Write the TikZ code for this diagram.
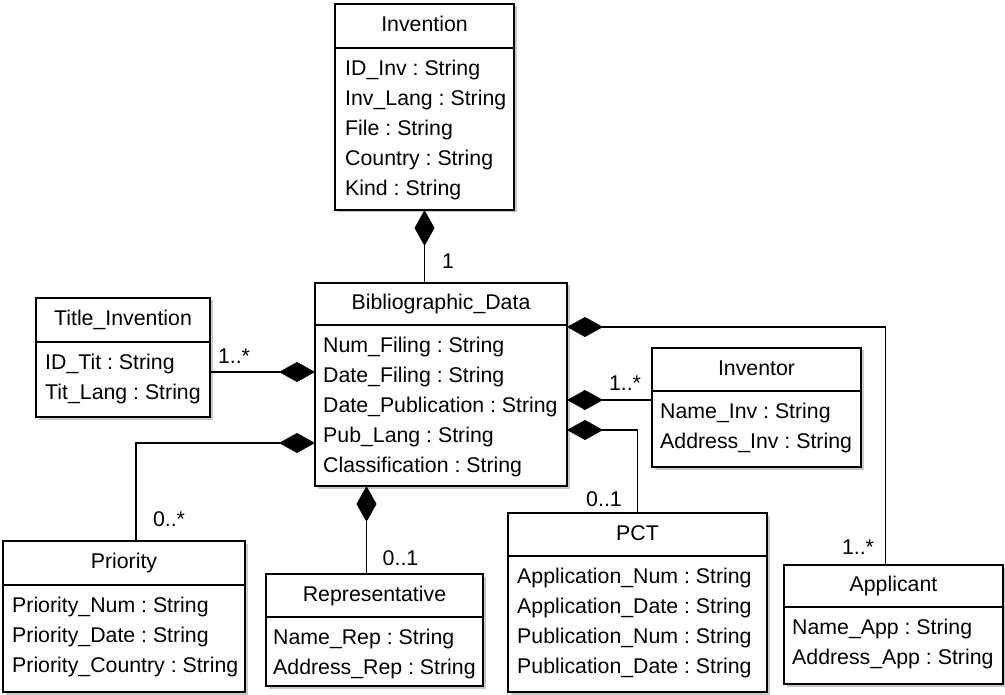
\documentclass[tikz,border=0pt]{standalone}
\usepackage{fontspec}
\setmainfont{Liberation Sans}
\frenchspacing
\usetikzlibrary{arrows.meta,positioning,calc,shadows}

\begin{document}
\begin{tikzpicture}[x=1pt,y=-1pt,font=\fontsize{21.3}{30}\selectfont,
 cls/.style={draw,fill=white,line width=1.5pt,inner sep=0pt,outer sep=0pt,drop shadow={shadow xshift=2.5pt,shadow yshift=-2.5pt,fill=black!30,opacity=.7}},
 hd/.style={cls,anchor=north west,text height=15.5pt,text depth=4.5pt},
 attr/.style={anchor=north west,align=left,inner sep=0pt},
 comp/.style={{Diamond[length=36pt,width=20pt]}-,line width=1.3pt},
 lbl/.style={inner sep=0pt}]
\useasboundingbox (0,0) rectangle (1005,695);
% classes
\node[hd,minimum width=179pt,minimum height=44pt] (inv) at (335,4) {Invention};
\node[cls,minimum width=179pt,minimum height=162pt,below=0pt of inv] (invA) {};
\node[attr] (invT) at ([shift={(10,12)}]invA.north west) {ID\_Inv : String\\Inv\_Lang : String\\File : String\\Country : String\\Kind : String};
\node[hd,minimum width=252pt,minimum height=42pt] (bib) at (315,283) {Bibliographic\_Data};
\node[cls,minimum width=252pt,minimum height=161pt,below=0pt of bib] (bibA) {};
\node[attr] (bibT) at ([shift={(8,12)}]bibA.north west) {Num\_Filing : String\\Date\_Filing : String\\Date\_Publication : String\\Pub\_Lang : String\\Classification : String};
\node[hd,minimum width=174pt,minimum height=44pt] (tit) at (36,298) {Title\_Invention};
\node[cls,minimum width=174pt,minimum height=75pt,below=0pt of tit] (titA) {};
\node[attr] (titT) at ([shift={(9,12)}]titA.north west) {ID\_Tit : String\\Tit\_Lang : String};
\node[hd,minimum width=209pt,minimum height=43pt] (invt) at (652,348) {Inventor};
\node[cls,minimum width=209pt,minimum height=76pt,below=0pt of invt] (invtA) {};
\node[attr] (invtT) at ([shift={(8,12)}]invtA.north west) {Name\_Inv : String\\Address\_Inv : String};
\node[hd,minimum width=242pt,minimum height=44pt] (pri) at (3,541) {Priority};
\node[cls,minimum width=242pt,minimum height=107pt,below=0pt of pri] (priA) {};
\node[attr] (priT) at ([shift={(9,12)}]priA.north west) {Priority\_Num : String\\Priority\_Date : String\\Priority\_Country : String};
\node[hd,minimum width=217pt,minimum height=43pt] (rep) at (266,574) {Representative};
\node[cls,minimum width=217pt,minimum height=69pt,below=0pt of rep] (repA) {};
\node[attr] (repT) at ([shift={(7,12)}]repA.north west) {Name\_Rep : String\\Address\_Rep : String};
\node[hd,minimum width=259pt,minimum height=43pt] (pct) at (508,513) {PCT};
\node[cls,minimum width=259pt,minimum height=136pt,below=0pt of pct] (pctA) {};
\node[attr] (pctT) at ([shift={(9,12)}]pctA.north west) {Application\_Num : String\\Application\_Date : String\\Publication\_Num : String\\Publication\_Date : String};
\node[hd,minimum width=219pt,minimum height=42pt] (app) at (784,565) {Applicant};
\node[cls,minimum width=219pt,minimum height=77pt,below=0pt of app] (appA) {};
\node[attr] (appT) at ([shift={(8,12)}]appA.north west) {Name\_App : String\\Address\_App : String};
% attachment points
\coordinate (bT) at ([yshift=-47pt]bibA.north west);
\coordinate (bP) at ([yshift=-118pt]bibA.north west);
\coordinate (bA) at ([yshift=-2pt]bibA.north east);
\coordinate (bI) at ([yshift=-75pt]bibA.north east);
\coordinate (bC) at ([yshift=-105pt]bibA.north east);
\coordinate (pT) at ([xshift=12pt]pri.north);
\coordinate (rT) at ([xshift=-8pt]rep.north);
\coordinate (aT) at ([xshift=-8pt]app.north);
% compositions
\draw[comp] (invA.south) -- (invA.south |- bib.north) node[lbl,pos=1,xshift=23.5pt,yshift=22pt]{1};
\draw[comp] (bT) -- (bT -| titA.east) node[lbl,pos=1,xshift=24pt,yshift=16pt]{1..*};
\draw[comp] (bP) -| (pT) node[lbl,pos=1,xshift=33pt,yshift=22pt]{0..*};
\draw[comp] (rT |- bibA.south) -- (rT) node[lbl,pos=1,xshift=34pt,yshift=16pt]{0..1};
\draw[comp] (bI) -- (bI -| invtA.west) node[lbl,pos=1,xshift=-27pt,yshift=17pt]{1..*};
\draw[comp] (bC) -| (pct.north) node[lbl,pos=1,xshift=-33.5pt,yshift=14pt]{0..1};
\draw[comp] (bA) -| (aT) node[lbl,pos=1,xshift=-27.5pt,yshift=18pt]{1..*};
\end{tikzpicture}
\end{document}
